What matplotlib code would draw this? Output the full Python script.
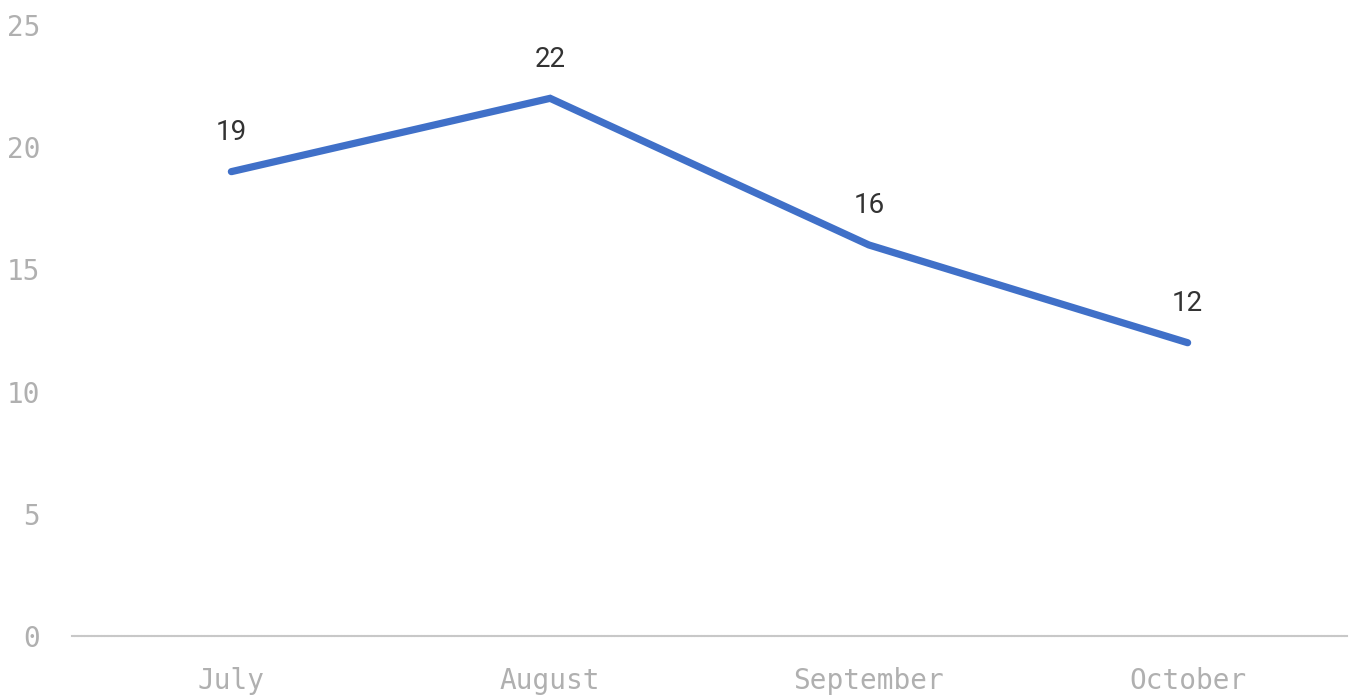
import matplotlib
matplotlib.use("Agg")
import matplotlib.pyplot as plt

months = ["July", "August", "September", "October"]
values = [19, 22, 16, 12]
yticks = [0, 5, 10, 15, 20, 25]

W, H = 1354, 695
fig = plt.figure(figsize=(W / 100, H / 100), dpi=100)
ax = fig.add_axes([72 / W, (H - 636) / H, (1347 - 72) / W, (636 - 25) / H])

x = list(range(len(months)))
ax.plot(x, values, color="#4070C8", linewidth=5.2, solid_capstyle="round",
        solid_joinstyle="miter", zorder=3)

for xi, v in zip(x, values):
    ax.annotate(str(v), (xi, v), xytext=(0, 39), textcoords="offset pixels",
                ha="center", va="center", fontsize=20, color="#333333",
                family="Roboto")

ax.set_xlim(-0.5, len(months) - 0.5)
ax.set_ylim(0, 25)
ax.set_xticks(x)
ax.set_xticklabels(months)
ax.set_yticks(yticks)
ax.set_yticklabels([str(t) for t in yticks])
for lab in ax.get_xticklabels() + ax.get_yticklabels():
    lab.set_family("DejaVu Sans Mono")
    lab.set_fontsize(20)
    lab.set_color("#B0B0B0")
ax.tick_params(axis="both", length=0)
ax.tick_params(axis="x", pad=22)
ax.tick_params(axis="y", pad=23)

for s in ["top", "right", "left"]:
    ax.spines[s].set_visible(False)
ax.spines["bottom"].set_color("#C8C8C8")
ax.spines["bottom"].set_linewidth(1.5)
ax.spines["bottom"].set_linestyle((0, (1, 0.6)))

fig.savefig("out.png", dpi=100, facecolor="white")
